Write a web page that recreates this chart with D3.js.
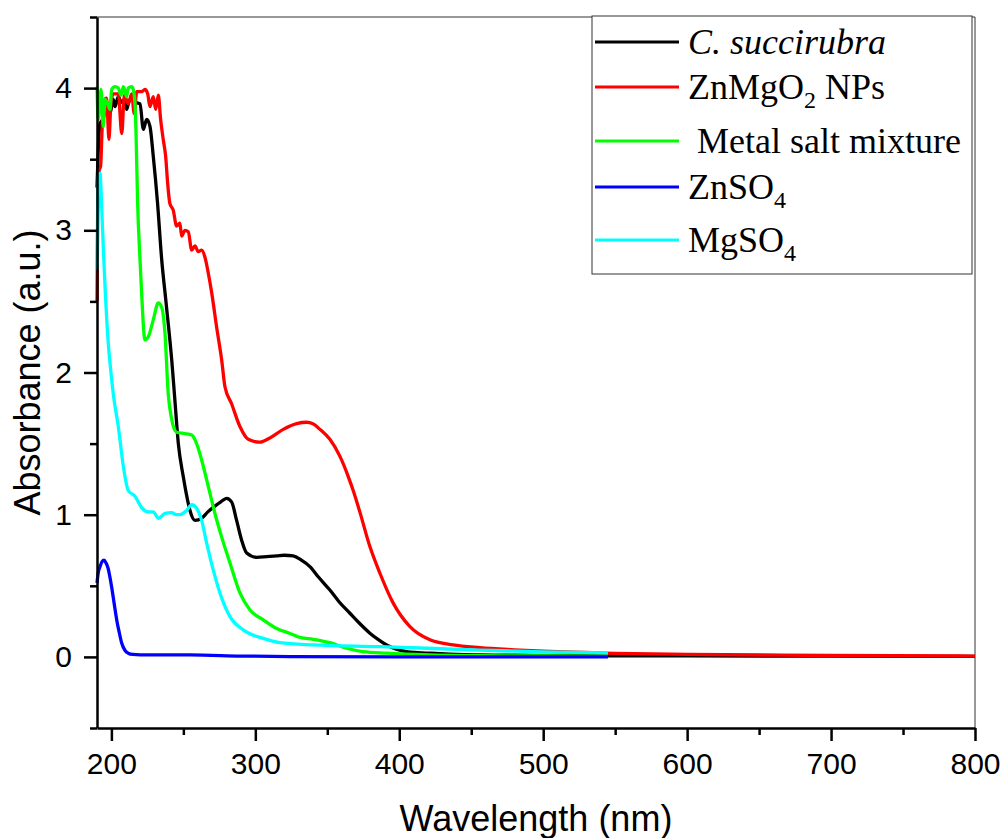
<!DOCTYPE html>
<html>
<head>
<meta charset="utf-8">
<script src="https://cdn.jsdelivr.net/npm/d3@7"></script>
<style>
  body { margin: 0; background: #fff; }
  svg { display: block; }
</style>
</head>
<body>
<div id="vis"></div>
<script>
"use strict";
const [width, height] = [1002, 838];

// wavelength (nm) / absorbance pairs
const blackNm = [190, 191, 192.1, 194, 196.7, 199, 201.3, 202.5, 204.8, 207, 209.4, 210.6, 212, 214.1, 217, 219.9, 222.2, 224.5, 226.8, 229.1, 232, 234.9, 238, 241.9, 244, 246.5, 249.9, 252, 254.6, 258.1, 262.7, 267, 271.9, 276, 280, 283.5, 287, 290.5, 294, 300.9, 308, 314.8, 320, 326.3, 332, 337.9, 344, 351.8, 358, 365.7, 372, 379.6, 385, 391.2, 398, 405.1, 413, 421.3, 435, 456, 480, 510, 545, 600, 700, 800];
const blackAbs = [3.3, 3.6, 3.75, 3.78, 3.85, 3.82, 3.92, 3.87, 3.94, 3.9, 3.92, 3.85, 3.9, 3.93, 3.9, 3.89, 3.71, 3.78, 3.73, 3.52, 3.2, 2.8, 2.49, 2.09, 1.82, 1.5, 1.27, 1.15, 1.03, 0.96, 0.975, 1.02, 1.06, 1.09, 1.115, 1.09, 0.96, 0.82, 0.73, 0.7, 0.705, 0.71, 0.715, 0.71, 0.68, 0.635, 0.56, 0.47, 0.39, 0.307, 0.24, 0.167, 0.125, 0.084, 0.055, 0.037, 0.03, 0.026, 0.02, 0.014, 0.012, 0.01, 0.008, 0.007, 0.005, 0.004];

const redNm = [190, 190.5, 191.5, 192.5, 193.5, 194.4, 196.7, 198.3, 199.7, 201.3, 204.8, 207.2, 209, 211.7, 214.1, 215.9, 217.6, 221, 223.3, 225.2, 226.8, 229.1, 230.8, 232.6, 234.2, 236, 237.7, 239.1, 240.6, 243, 245.3, 247.6, 248.8, 251.1, 253.4, 255.8, 258.1, 260.3, 262.7, 265, 267.3, 269.7, 273.1, 276.6, 278.9, 283.5, 289.3, 295.1, 303.2, 310.1, 319.4, 328.7, 335.6, 340, 344.9, 351.8, 358.8, 364.5, 368, 372.6, 379.6, 386.5, 395.8, 407.4, 421.3, 437.4, 456, 480, 500, 550, 600, 700, 800];
const redAbs = [2.5, 3.1, 3.42, 3.45, 3.7, 3.9, 3.93, 3.64, 3.9, 3.96, 3.96, 3.68, 3.95, 3.89, 3.96, 3.82, 3.975, 3.975, 3.99, 3.96, 3.87, 3.94, 3.85, 3.95, 3.78, 3.64, 3.52, 3.33, 3.19, 3.14, 3.03, 3.05, 2.96, 3.0, 2.99, 2.86, 2.89, 2.85, 2.86, 2.81, 2.7, 2.56, 2.32, 2.09, 1.9, 1.78, 1.62, 1.53, 1.51, 1.54, 1.6, 1.64, 1.65, 1.64, 1.6, 1.53, 1.41, 1.27, 1.17, 1.02, 0.776, 0.59, 0.378, 0.213, 0.12, 0.084, 0.065, 0.05, 0.04, 0.025, 0.018, 0.01, 0.006];

const greenNm = [190, 190.9, 192.8, 194.4, 195.6, 197.4, 199, 200.2, 202.5, 204.8, 206.7, 208.3, 210.6, 211.7, 214.1, 215.2, 216.4, 217.2, 218.2, 219.9, 221, 223.3, 225.6, 229.1, 232.6, 234.9, 237.2, 239.5, 241.9, 245.3, 251.1, 255.8, 259.2, 262.7, 267.3, 271.9, 277, 282.4, 289.3, 296.3, 305.5, 314.8, 324, 330, 340.2, 351.8, 363.4, 374.9, 391.2, 421.3, 456, 500, 545];
const greenAbs = [4.01, 3.78, 3.99, 3.73, 3.92, 3.89, 3.85, 3.99, 4.01, 4.0, 3.95, 4.01, 3.94, 4.0, 4.01, 3.99, 3.89, 3.65, 3.2, 2.79, 2.56, 2.23, 2.25, 2.37, 2.49, 2.46, 2.28, 1.85, 1.67, 1.58, 1.57, 1.56, 1.5, 1.385, 1.2, 1.01, 0.83, 0.66, 0.45, 0.33, 0.26, 0.2, 0.165, 0.14, 0.124, 0.1, 0.061, 0.037, 0.026, 0.014, 0.009, 0.007, 0.006];

const blueNm = [190, 191, 192.1, 193.5, 194.9, 196.3, 197.8, 199, 200.2, 202, 203.7, 205.5, 207.2, 209.5, 211.7, 215, 219.9, 254.6, 290, 324, 400, 545];
const blueAbs = [0.52, 0.6, 0.635, 0.67, 0.68, 0.66, 0.62, 0.56, 0.49, 0.37, 0.26, 0.17, 0.096, 0.045, 0.026, 0.017, 0.014, 0.014, 0.006, 0.002, 0.0, 0.0];

const cyanNm = [190, 190.9, 192.1, 193.3, 194.5, 195.6, 197.8, 199.5, 201.3, 204.8, 208.3, 211.7, 216.4, 221, 225.6, 229.1, 232.6, 235, 237.2, 241.9, 245, 247.6, 252.3, 255.8, 259.2, 262.7, 266.2, 270.8, 275.4, 282.4, 291.6, 305.5, 317, 340.2, 386.5, 456, 500, 545];
const cyanAbs = [2.72, 3.38, 3.4, 3.15, 2.85, 2.6, 2.21, 2.02, 1.85, 1.62, 1.34, 1.17, 1.13, 1.05, 1.02, 1.02, 0.975, 0.99, 1.01, 1.015, 1.0, 1.0, 1.03, 1.07, 1.045, 0.96, 0.8, 0.61, 0.45, 0.283, 0.19, 0.13, 0.1, 0.084, 0.072, 0.048, 0.035, 0.028];

const seriesNames = ["C. succirubra", "ZnMgO2 NPs", "Metal salt mixture", "ZnSO4", "MgSO4"];
const seriesColors = ["#000000", "#ff0000", "#00ff00", "#0000ff", "#00ffff"];
const xMajor = [200, 300, 400, 500, 600, 700, 800];
const xMinor = [250, 350, 450, 550, 650, 750];
const yMajor = [0, 1, 2, 3, 4];
const yMinor = [-0.5, 0.5, 1.5, 2.5, 3.5, 4.5];

const series = [
  [blackNm, blackAbs], [redNm, redAbs], [greenNm, greenAbs], [blueNm, blueAbs], [cyanNm, cyanAbs]
].map(([xs, ys], i) => ({
  name: seriesNames[i],
  color: seriesColors[i],
  pts: xs.map((x, j) => [x, ys[j]])
}));

const plot = {left: 97, right: 975, top: 17, bottom: 728};
const x = d3.scaleLinear().domain([190, 800]).range([plot.left, plot.right]);
const y = d3.scaleLinear().domain([-0.5, 4.5]).range([plot.bottom, plot.top]);

const svg = d3.select('#vis').append('svg')
  .attr('width', width).attr('height', height)
  .attr('viewBox', [0, 0, width, height]);

// thin frame on top / right
svg.append('path')
  .attr('d', `M${plot.left},${plot.top}H${plot.right}V${plot.bottom}`)
  .attr('fill', 'none').attr('stroke', '#333').attr('stroke-width', 1);

const line = d3.line()
  .x(d => x(d[0])).y(d => y(d[1]))
  .curve(d3.curveMonotoneX);

svg.append('g').selectAll('path')
  .data(series)
  .join('path')
    .attr('d', d => line(d.pts))
    .attr('fill', 'none')
    .attr('stroke', d => d.color)
    .attr('stroke-width', 3.3)
    .attr('stroke-linejoin', 'round');

// axes
const tickFont = 'Liberation Sans, Arial, sans-serif';
const gx = svg.append('g').attr('transform', `translate(0,${plot.bottom})`);
gx.call(d3.axisBottom(x).tickValues(xMajor).tickFormat(d3.format('d')).tickSize(13).tickPadding(12).tickSizeOuter(0));
gx.append('g').call(d3.axisBottom(x).tickValues(xMinor).tickSize(7).tickFormat('').tickSizeOuter(0))
  .select('.domain').remove();
const gy = svg.append('g').attr('transform', `translate(${plot.left},0)`);
gy.call(d3.axisLeft(y).tickValues(yMajor).tickFormat(d3.format('d')).tickSize(13).tickPadding(12).tickSizeOuter(0));
gy.append('g').call(d3.axisLeft(y).tickValues(yMinor).tickSize(7).tickFormat('').tickSizeOuter(0))
  .select('.domain').remove();
svg.selectAll('.domain').attr('stroke', '#000').attr('stroke-width', 2.5);
svg.selectAll('.tick line').attr('stroke', '#000').attr('stroke-width', 2.5);
svg.selectAll('.tick text').attr('font-family', tickFont).attr('font-size', 30).attr('fill', '#000');

svg.append('text')
  .attr('x', (plot.left + plot.right) / 2).attr('y', 831)
  .attr('text-anchor', 'middle')
  .attr('font-family', tickFont).attr('font-size', 36)
  .text('Wavelength (nm)');
svg.append('text')
  .attr('transform', `translate(40,${(plot.top + plot.bottom) / 2}) rotate(-90)`)
  .attr('text-anchor', 'middle')
  .attr('font-family', tickFont).attr('font-size', 36)
  .text('Absorbance (a.u.)');

// legend
const legend = svg.append('g');
legend.append('rect')
  .attr('x', 592).attr('y', 16).attr('width', 380).attr('height', 258)
  .attr('fill', '#fff').attr('stroke', '#333').attr('stroke-width', 1);
const rowY = [42, 87, 141, 187, 240];
const rows = legend.selectAll('g.row')
  .data(series)
  .join('g')
    .attr('class', 'row')
    .attr('transform', (d, i) => `translate(0,${rowY[i]})`);
rows.append('line')
  .attr('x1', 595).attr('x2', 679)
  .attr('stroke', d => d.color).attr('stroke-width', 3);
const labels = rows.append('text')
  .attr('x', 688).attr('y', 12)
  .attr('font-family', 'Liberation Serif, Times New Roman, serif')
  .attr('font-size', 36).attr('fill', '#000');
labels.each(function(d) {
  const t = d3.select(this);
  const m = d.name.match(/^(.*?)(\d)(.*)$/);
  if (d.name === 'C. succirubra') {
    t.attr('font-style', 'italic').text(d.name);
  } else if (d.name === 'Metal salt mixture') {
    t.attr('x', 697).text(d.name);
  } else if (m) {
    t.append('tspan').text(m[1]);
    t.append('tspan').attr('font-size', 24).attr('dy', 9).text(m[2]);
    if (m[3]) t.append('tspan').attr('dy', -9).text(m[3]);
  }
});
</script>
</body>
</html>
